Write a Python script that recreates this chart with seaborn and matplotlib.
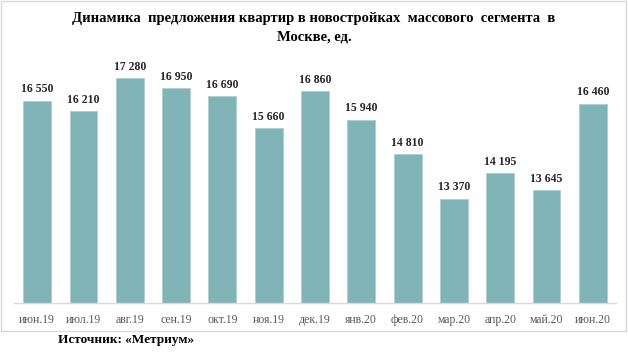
import matplotlib
matplotlib.use("Agg")
import matplotlib.pyplot as plt
import seaborn as sns
import pandas as pd
from matplotlib.patches import Rectangle

months = ["июн.19", "июл.19", "авг.19", "сен.19", "окт.19", "ноя.19", "дек.19",
          "янв.20", "фев.20", "мар.20", "апр.20", "май.20", "июн.20"]
values = [16550, 16210, 17280, 16950, 16690, 15660, 16860,
          15940, 14810, 13370, 14195, 13645, 16460]

title = "Динамика  предложения квартир в новостройках  массового  сегмента  в\nМоскве, ед."
source = "Источник: «Метриум»"

sns.set_theme(style="white")
plt.rcParams["font.family"] = ["Liberation Serif", "DejaVu Serif"]

df = pd.DataFrame({"month": months, "value": values})

fig = plt.figure(figsize=(6.28, 3.56), dpi=100)
ax = fig.add_axes([14/628, 53/356, 602/628, 247/356])
sns.barplot(data=df, x="month", y="value", color="#80b4b6", width=0.6,
            saturation=1, ax=ax, edgecolor="#a9cdcf", linewidth=0.5)

ax.set_ylim(10000, 18000)
ax.set_xlim(-0.5, len(months) - 0.5)
ax.set_xlabel("")
ax.set_ylabel("")
ax.set_yticks([])
for s in ["left", "right", "top"]:
    ax.spines[s].set_visible(False)
ax.spines["bottom"].set_color("#d9d9d9")
ax.spines["bottom"].set_linewidth(1)
ax.tick_params(axis="x", which="major", length=0, pad=8, labelsize=8.5, labelcolor="#595959")
ax.set_xticks([i - 0.5 for i in range(len(months) + 1)], minor=True)
ax.tick_params(axis="x", which="minor", length=4, color="#d9d9d9", width=1, direction="out")

for i, v in enumerate(values):
    lab = f"{v:,}".replace(",", " ")
    ax.annotate(lab, (i, v), xytext=(0, 4), textcoords="offset points",
                ha="center", va="bottom", fontsize=8.5, fontweight="bold", color="#262626")

fig.text(0.5, 1 - 28/356, title, ha="center", va="center", fontsize=10.5,
         fontweight="bold", color="black", linespacing=1.55)
fig.text(58/628, 1 - 340/356, source, ha="left", va="center", fontsize=9.5,
         fontweight="bold", color="black")

fig.patches.append(Rectangle((1/628, 25/356), 625/628, 330/356, transform=fig.transFigure,
                             fill=False, edgecolor="#d9d9d9", linewidth=1))

fig.savefig("out.png", dpi=100)
